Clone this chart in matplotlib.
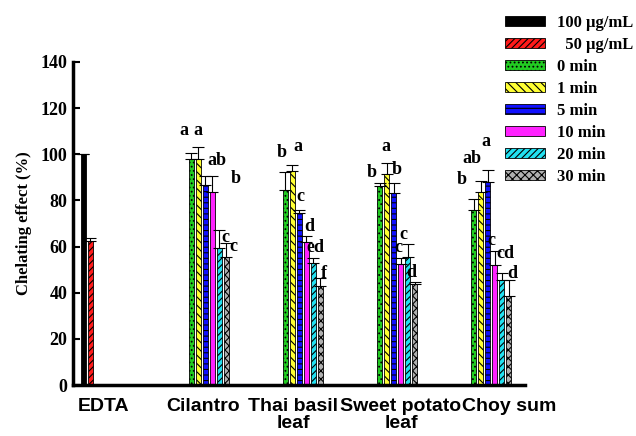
import numpy as np
import matplotlib
matplotlib.use("Agg")
import matplotlib.pyplot as plt
import matplotlib.transforms as mtransforms
from matplotlib.patches import Patch

plt.rcParams['hatch.linewidth'] = 0.8

groups = ["EDTA", "Cilantro", "Thai basil\nleaf", "Sweet potato\nleaf", "Choy sum"]
series = ["100 μg/mL", "  50 μg/mL", "0 min", "1 min", "5 min", "10 min", "20 min", "30 min"]

# EDTA standard (100 / 50 ug/mL)
edta_vals = [100.0, 62.4]
edta_err = [0.0, 1.3]

# vegetables x blanching time (0,1,5,10,20,30 min)
veg_vals = [
    [97.8, 97.8, 86.7, 83.5, 59.2, 55.6],
    [84.5, 92.9, 74.7, 61.8, 53.0, 42.9],
    [86.3, 91.5, 83.1, 52.4, 55.6, 43.8],
    [75.9, 83.5, 87.9, 52.0, 45.5, 38.6],
]
veg_err = [
    [2.9, 5.2, 3.9, 7.1, 7.8, 5.9],
    [7.8, 2.4, 1.1, 2.8, 2.0, 3.5],
    [1.2, 4.6, 4.6, 2.6, 5.4, 0.7],
    [4.6, 4.9, 5.3, 6.2, 3.2, 6.9],
]
veg_letters = [
    ["a", "a", "ab", "b", "c", "c"],
    ["b", "a", "c", "d", "ed", "f"],
    ["b", "a", "b", "c", "c", "d"],
    ["b", "ab", "a", "c", "cd", "d"],
]

# where each letter sits relative to its bar top (x in pixels, y in % units)
letter_dx = [
    [-8, -1, 11, 23, 6, 7],
    [-4, 5, 1, 3, 2, 3],
    [-8, -1, 3, -2, -4, -3],
    [-12, -9, -2, -3, 4, 4],
]
letter_dy = [
    [9.8, 7.5, 6.5, -1.3, -2.9, -1.3],
    [8.3, 7.9, 5.7, 3.9, 4.8, 2.1],
    [4.8, 7.1, 5.5, 4.4, 4.4, 4.4],
    [8.4, 9.8, 12.5, 4.6, 8.1, 3.0],
]
# horizontal nudge of the category labels, in pixels
label_shift = [-4.5, 1, -3, 11, 25]

colors = ["black", "#ff1a1a", "#22cc22", "#ffff33", "#1010ff", "#ff22ff", "#22e0f0", "#b0b0b0"]
hatches = [None, "/////", "....", "\\\\\\\\", "---", None, "/////", "xxxx"]

fig = plt.figure(figsize=(6.36, 4.36), dpi=100)
ax = fig.add_axes([73 / 636, 51 / 436, 452 / 636, 323 / 436])

px = 1 / 94  # one pixel in x data units
slot = 7 * px
bw = 5.5 * px

def draw(x, v, e, k):
    ax.bar(x, v, bw, color=colors[k], edgecolor="black", linewidth=0.6,
           hatch=hatches[k], zorder=2)
    ax.errorbar(x, v, yerr=[[0], [max(e, 0.01)]], fmt="none", ecolor="black",
                elinewidth=0.8, capsize=4, capthick=0.8, zorder=3)

for k in range(2):
    draw(0 + (k - 3.5) * slot, edta_vals[k], edta_err[k], k)

for g in range(4):
    for j in range(6):
        k = j + 2
        x = (g + 1) + (k - 3.5) * slot
        v = veg_vals[g][j]
        e = veg_err[g][j]
        draw(x, v, e, k)
        ax.text(x + letter_dx[g][j] * px, v + e + letter_dy[g][j], veg_letters[g][j],
                ha="center", va="center", fontsize=13, fontweight="bold",
                family="Liberation Serif")

ax.set_xlim(-0.372, 4.436)
ax.set_ylim(0, 140)
ax.set_yticks(np.arange(0, 141, 20))
ax.set_xticks(range(len(groups)))
ax.set_xticklabels(groups, fontsize=14, fontweight="bold", family="Liberation Sans",
                   linespacing=1.0)
ax.tick_params(axis="x", length=0, pad=9)
ax.tick_params(axis="y", direction="in", length=5, width=1.5, pad=4)
for lab, sh in zip(ax.get_xticklabels(), label_shift):
    lab.set_transform(lab.get_transform() +
                      mtransforms.ScaledTranslation(sh / 100, 0, fig.dpi_scale_trans))
for lab in ax.get_yticklabels():
    lab.set_fontsize(13)
    lab.set_fontweight("bold")
    lab.set_family("Liberation Serif")
ax.set_ylabel("Chelating effect (%)", fontsize=12, fontweight="bold",
              family="Liberation Serif", labelpad=6)

for s in ["top", "right"]:
    ax.spines[s].set_visible(False)
for s in ["left", "bottom"]:
    ax.spines[s].set_linewidth(2.5)

handles = [Patch(facecolor=colors[k], edgecolor="black", linewidth=0.6, hatch=hatches[k])
           for k in range(len(series))]
fig.legend(handles, series, loc="upper left", bbox_to_anchor=(505 / 636, 1 - 15 / 436),
           frameon=False, borderpad=0, borderaxespad=0, handlelength=2.4,
           handleheight=0.55, handletextpad=0.7, labelspacing=0.36,
           prop={"family": "Liberation Serif", "weight": "bold", "size": 12})

fig.savefig("out.png", dpi=100)
